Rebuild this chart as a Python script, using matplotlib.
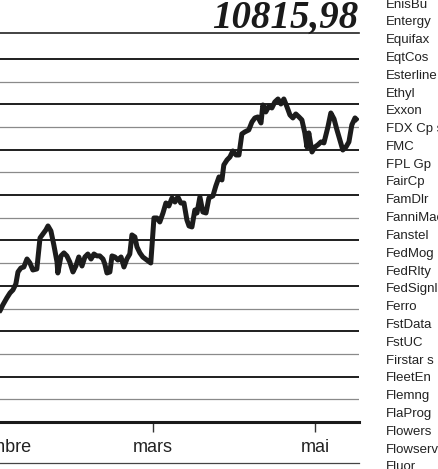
import matplotlib.pyplot as plt
from matplotlib.lines import Line2D

# Dow Jones, jours depuis le 1er janvier
DAYS = [-0.9, 1.4, 2.5, 4.0, 5.2, 6.3, 7.4, 8.2, 9.3, 10.4, 11.6, 12.7, 13.8, 15.3,
        16.5, 17.6, 18.7, 19.5, 20.6, 21.7, 22.9, 23.2, 24.4, 25.5, 26.6, 27.7,
        28.9, 30.0, 31.1, 32.3, 33.4, 34.5, 35.7, 36.8, 37.9, 39.0, 40.2, 40.9,
        41.7, 42.8, 43.6, 44.7, 45.8, 47.0, 48.1, 49.2, 50.3, 51.1, 52.2, 53.0,
        54.1, 55.2, 56.7, 58.2, 59.4, 60.5, 61.6, 62.8, 63.9, 65.0, 66.2, 67.3,
        68.4, 69.5, 70.7, 71.8, 72.6, 73.7, 74.8, 75.6, 76.7, 77.8, 79.0, 80.1,
        81.6, 82.7, 83.9, 85.0, 85.7, 86.9, 88.0, 89.1, 90.3, 91.4, 92.5, 93.6,
        95.1, 96.3, 97.4, 98.5, 99.7, 100.4, 101.5, 102.7, 103.8, 104.9, 106.1,
        107.2, 108.3, 109.5, 110.6, 111.7, 112.8, 114.0, 115.1, 116.2, 117.0,
        117.7, 118.9, 120.0, 121.1, 122.3, 123.4, 124.9, 126.0, 127.2, 128.3,
        129.4, 130.5, 131.7, 132.8, 133.9, 135.1, 136.2]
DOW = [8646, 8724, 8790, 8867, 8922, 8955, 9021, 9153, 9197, 9208, 9296, 9252, 9175, 9186,
       9528, 9572, 9616, 9660, 9605, 9451, 9263, 9142, 9330, 9363, 9330, 9263,
       9153, 9219, 9318, 9219, 9318, 9351, 9296, 9351, 9330, 9330, 9296, 9241,
       9142, 9153, 9330, 9318, 9285, 9318, 9208, 9296, 9351, 9561, 9539, 9429,
       9363, 9318, 9285, 9252, 9748, 9748, 9704, 9803, 9913, 9880, 9969, 9924,
       9980, 9913, 9913, 9726, 9660, 9649, 9836, 9803, 9980, 9814, 9803, 9969,
       9991, 10101, 10200, 10167, 10332, 10387, 10420, 10486, 10442, 10442, 10674, 10696,
       10718, 10806, 10850, 10861, 10795, 10993, 10916, 10982, 10960, 11026, 11059,
       11004, 11059, 10971, 10883, 10850, 10894, 10861, 10828, 10685, 10530,
       10685, 10475, 10530, 10553, 10586, 10575, 10751, 10905, 10839, 10718,
       10608, 10497, 10530, 10586, 10773, 10850, 10816]

LAST_VALUE = "10815,98"

MONTH_TICKS = [-2, 59, 120]
MONTH_LABELS = ["décembre", "mars", "mai"]

GRID_MAJOR = list(range(8000, 11501, 500))
GRID_MINOR = list(range(7750, 11501, 500))

NAMES = ["EnisBu", "Entergy", "Equifax", "EqtCos", "Esterline", "Ethyl", "Exxon",
         "FDX Cp s", "FMC", "FPL Gp", "FairCp", "FamDlr", "FanniMae", "Fanstel",
         "FedMog", "FedRlty", "FedSignl", "Ferro", "FstData", "FstUC", "Firstar s",
         "FleetEn", "Flemng", "FlaProg", "Flowers", "Flowserv", "Fluor"]

W, H = 439, 469
fig = plt.figure(figsize=(W / 100, H / 100), dpi=100)

# axes runs off the left edge, like the cropped original
ax = fig.add_axes([-20 / W, 47 / H, 379 / W, 389 / H])
ax.set_xlim(-6.1, 136.6)
ax.set_ylim(7500, 11786)

for v in GRID_MAJOR:
    ax.axhline(v, color="#1e1e1e", lw=1.4, zorder=1)
for v in GRID_MINOR:
    ax.axhline(v, color="#8a8a8a", lw=0.9, zorder=1)

ax.plot(DAYS, DOW, color="#1c1c1c", lw=3.6, solid_joinstyle="round",
        solid_capstyle="butt", zorder=3)

for side in ["left", "right"]:
    ax.spines[side].set_visible(False)
ax.spines["bottom"].set_linewidth(2.2)
ax.spines["bottom"].set_color("#1a1a1a")
ax.spines["top"].set_linewidth(1.2)
ax.spines["top"].set_color("#222222")

ax.set_yticks([])
ax.set_xticks(MONTH_TICKS)
ax.set_xticklabels(MONTH_LABELS, fontsize=13, family="Liberation Sans", color="#222222")
ax.tick_params(axis="x", direction="out", length=7, width=1, color="#333333", pad=5.5)
ax.xaxis.get_major_ticks()[0].tick1line.set_visible(False)

fig.text(358 / W, 1 - 28 / H, LAST_VALUE, ha="right", va="baseline",
         fontsize=28, family="Liberation Serif", style="italic", weight="bold",
         color="#1a1a1a")

fig.add_artist(Line2D([0, 359 / W], [1 - 463 / H, 1 - 463 / H], color="#444444", lw=0.9))

for i, name in enumerate(NAMES):
    fig.text(386 / W, 1 - (4.5 + 17.8 * i) / H, name, ha="left", va="center",
             fontsize=9.5, family="Liberation Sans", color="#222222")

fig.savefig("out.png", dpi=100)
